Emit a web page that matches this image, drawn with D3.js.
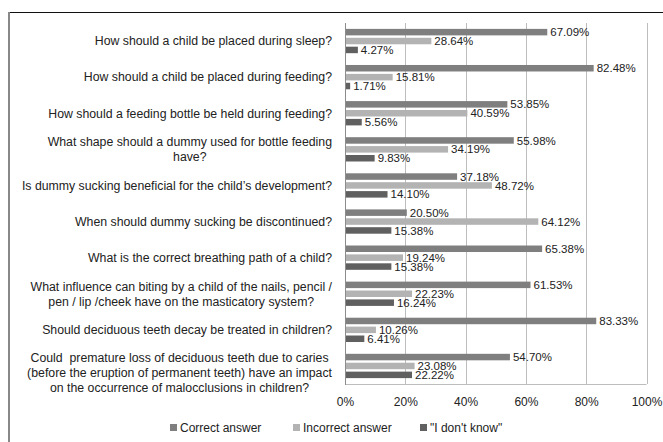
<!DOCTYPE html>
<html lang="en">
<head>
    <meta charset="UTF-8">
    <title>Knowledge survey</title>
    <style>
        body { margin: 0; background: #fff; }
        text { font-family: "Liberation Sans", Arial, sans-serif; fill: #222; }
    </style>
</head>
<body>
<div id="chart" style="width: 663px;height: 442px;"></div>

<script src="https://cdn.jsdelivr.net/npm/d3@7"></script>
<script>
    var questions = [
        ["How should a child be placed during sleep?"],
        ["How should a child be placed during feeding?"],
        ["How should a feeding bottle be held during feeding?"],
        ["What shape should a dummy used for bottle feeding", "have?"],
        ["Is dummy sucking beneficial for the child\u2019s development?"],
        ["When should dummy sucking be discontinued?"],
        ["What is the correct breathing path of a child?"],
        ["What influence can biting by a child of the nails, pencil /", "pen / lip /cheek have on the masticatory system?"],
        ["Should deciduous teeth decay be treated in children?"],
        ["Could  premature loss of deciduous teeth due to caries", "(before the eruption of permanent teeth) have an impact", "on the occurrence of malocclusions in children?"]
    ];
    var correct   = [67.09, 82.48, 53.85, 55.98, 37.18, 20.50, 65.38, 61.53, 83.33, 54.70];
    var incorrect = [28.64, 15.81, 40.59, 34.19, 48.72, 64.12, 19.24, 22.23, 10.26, 23.08];
    var dontKnow  = [4.27, 1.71, 5.56, 9.83, 14.10, 15.38, 15.38, 16.24, 6.41, 22.22];
    var seriesNames = ["Correct answer", "Incorrect answer", "\"I don't know\""];
    var seriesColors = ["#7f7f7f", "#b3b3b3", "#606060"];
    var ticks = [0, 20, 40, 60, 80, 100];

    var width = 663, height = 442;
    var svg = d3.select("#chart").append("svg")
        .attr("width", width)
        .attr("height", height);

    // outer frame (only top and left visible)
    svg.append("line").attr("x1", 8).attr("x2", width).attr("y1", 12.5).attr("y2", 12.5)
        .style("stroke", "#111").style("stroke-width", 1);
    svg.append("line").attr("x1", 9).attr("x2", 9).attr("y1", 12).attr("y2", height)
        .style("stroke", "#888").style("stroke-width", 2);

    var plot = {left: 345, right: 646.5, top: 23, bottom: 384};

    var x = d3.scaleLinear().domain([0, 100]).range([plot.left, plot.right]);
    var y = d3.scaleBand()
        .domain(d3.range(questions.length))
        .range([plot.top, plot.bottom])
        .paddingInner(0.327)
        .paddingOuter(0.163);
    var ySub = d3.scaleBand()
        .domain(d3.range(3))
        .range([0, y.bandwidth()])
        .paddingInner(0.27);

    // grid
    var gGrid = svg.append("g");
    gGrid.selectAll("line")
        .data(ticks.slice(1))
        .enter().append("line")
        .attr("x1", function(d){ return Math.round(x(d)) + 0.5; })
        .attr("x2", function(d){ return Math.round(x(d)) + 0.5; })
        .attr("y1", plot.top)
        .attr("y2", plot.bottom)
        .style("stroke", "#bdbdbd")
        .style("stroke-width", 1);
    gGrid.append("line")
        .attr("x1", plot.left).attr("x2", plot.right)
        .attr("y1", plot.bottom + 0.5).attr("y2", plot.bottom + 0.5)
        .style("stroke", "#bdbdbd");

    // x tick labels
    var xAxis = d3.axisBottom(x)
        .tickValues(ticks)
        .tickSize(0)
        .tickPadding(0)
        .tickFormat(function(d){ return d + "%"; });
    var gX = svg.append("g")
        .attr("transform", "translate(0," + (plot.bottom + 22) + ")")
        .call(xAxis);
    gX.select(".domain").remove();
    gX.selectAll("text")
        .style("font-size", "12px")
        .style("font-family", "Liberation Sans, Arial, sans-serif")
        .style("fill", "#222")
        .attr("dy", "0");

    // bars
    var rows = questions.map(function(q, i){
        return {i: i, values: [correct[i], incorrect[i], dontKnow[i]]};
    });
    var gRows = svg.append("g").selectAll(".row")
        .data(rows)
        .enter().append("g")
        .attr("class", "row")
        .attr("transform", function(d){ return "translate(0," + y(d.i) + ")"; });

    gRows.selectAll("rect")
        .data(function(d){ return d.values; })
        .enter().append("rect")
        .attr("x", x(0))
        .attr("y", function(d, j){ return ySub(j); })
        .attr("width", function(d){ return x(d) - x(0); })
        .attr("height", ySub.bandwidth())
        .style("fill", function(d, j){ return seriesColors[j]; });

    gRows.selectAll(".val")
        .data(function(d){ return d.values; })
        .enter().append("text")
        .attr("class", "val")
        .attr("x", function(d){ return x(d) + 3; })
        .attr("y", function(d, j){ return ySub(j) + ySub.bandwidth() / 2; })
        .attr("dy", "0.36em")
        .style("font-size", "11.5px")
        .text(function(d){ return d.toFixed(2) + "%"; });

    // y axis line
    svg.append("line")
        .attr("x1", plot.left + 0.5).attr("x2", plot.left + 0.5)
        .attr("y1", plot.top).attr("y2", plot.bottom + 1)
        .style("stroke", "#8c8c8c");

    // category labels (wrapped lines centred on the widest line, right edge fixed)
    var labelRight = 332, lineH = 15;
    var gLab = svg.append("g");
    questions.forEach(function(lines, i){
        var cy = y(i) + y.bandwidth() / 2;
        if (lines.length > 2) cy += 7;
        var t = gLab.append("text")
            .style("font-size", "12.3px")
            .style("white-space", "pre");
        var spans = t.selectAll("tspan").data(lines).enter().append("tspan")
            .attr("y", function(d, k){ return cy + (k - (lines.length - 1) / 2) * lineH; })
            .attr("dy", "0.35em")
            .text(function(d){ return d; });
        var maxW = 0;
        spans.each(function(){ maxW = Math.max(maxW, this.getComputedTextLength()); });
        t.attr("text-anchor", "middle");
        spans.attr("x", labelRight - maxW / 2);
    });

    // legend
    var legendX = [170, 293, 420];
    var gLeg = svg.append("g").selectAll(".leg")
        .data(seriesNames)
        .enter().append("g")
        .attr("class", "leg")
        .attr("transform", function(d, j){ return "translate(" + legendX[j] + ",428)"; });
    gLeg.append("rect")
        .attr("x", 0).attr("y", -4)
        .attr("width", 7).attr("height", 7)
        .style("fill", function(d, j){ return seriesColors[j]; });
    gLeg.append("text")
        .attr("x", 10)
        .attr("dy", "0.35em")
        .style("font-size", "12px")
        .text(function(d){ return d; });
</script>
</body>
</html>
